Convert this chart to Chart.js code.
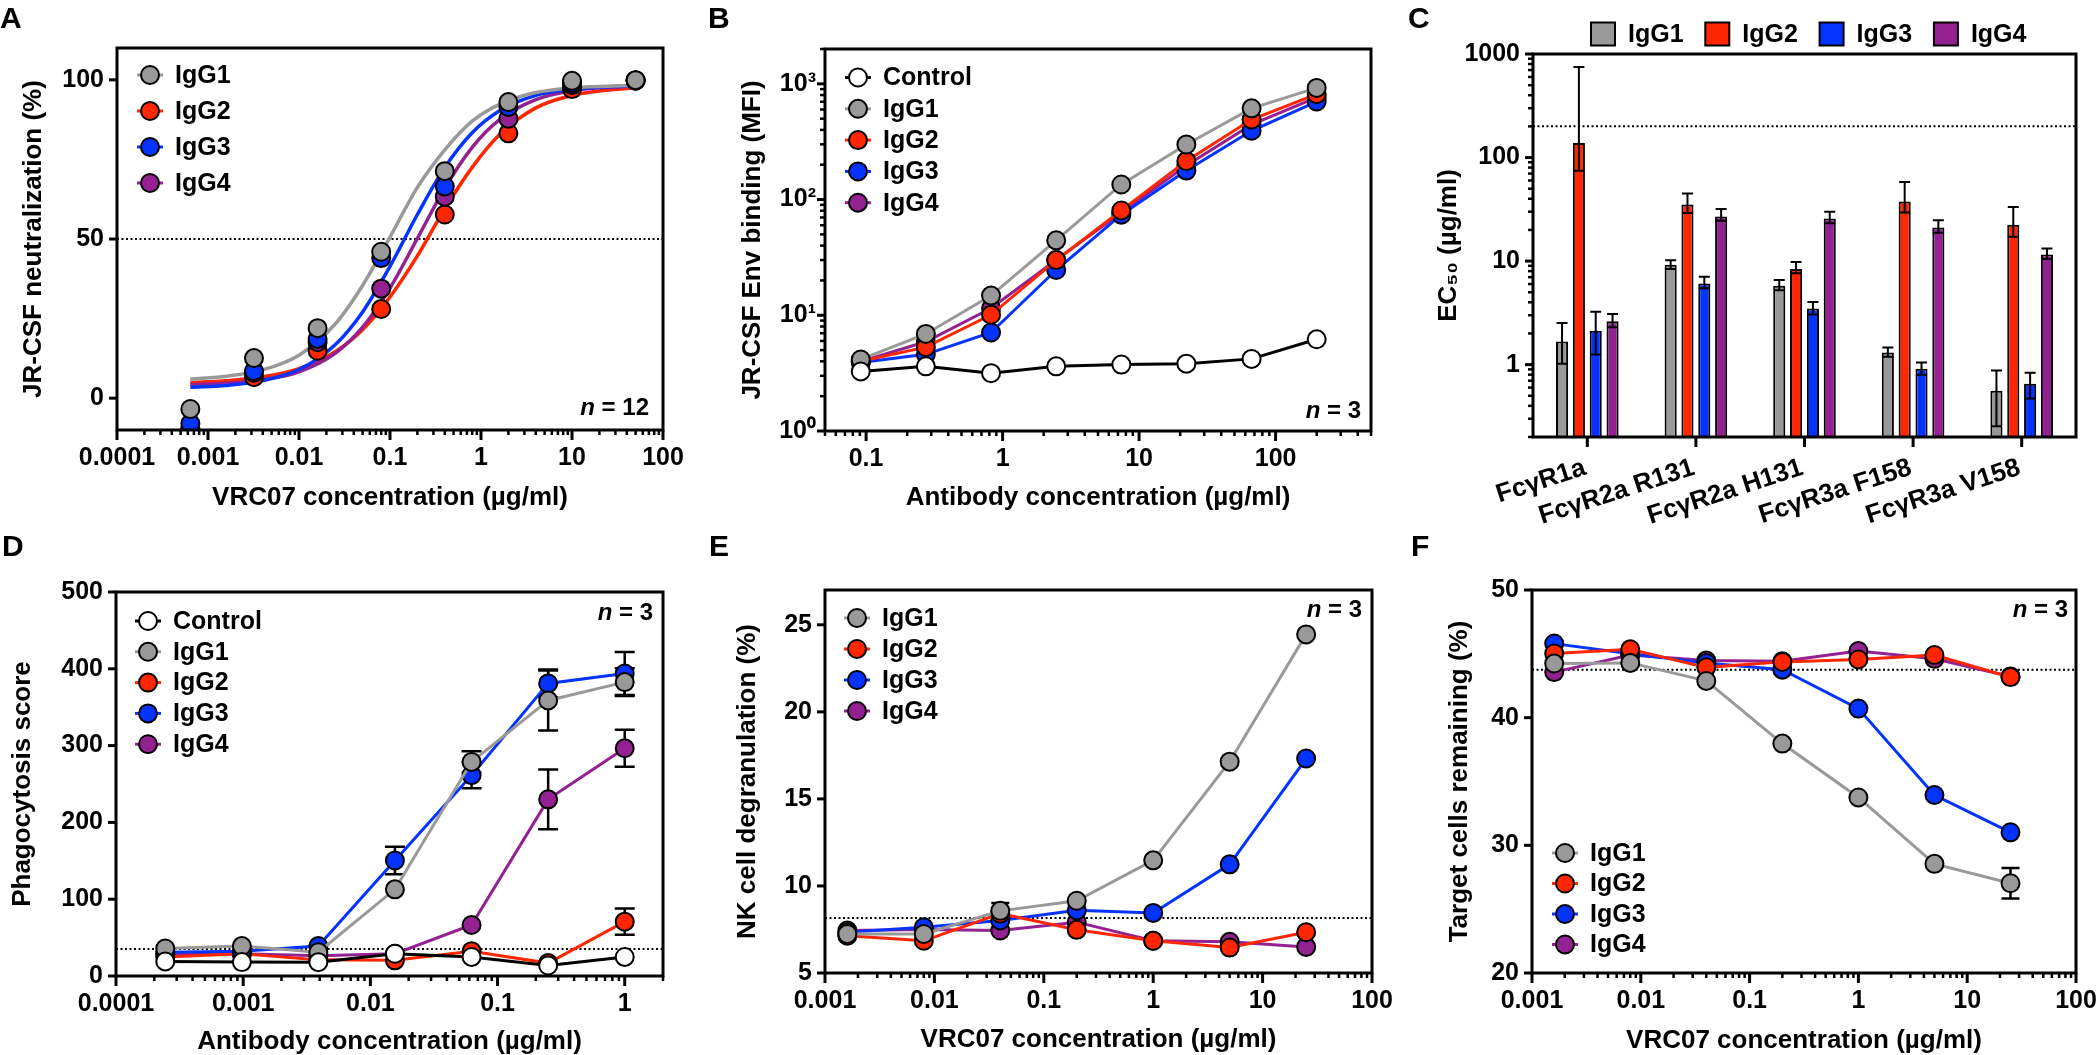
<!DOCTYPE html>
<html lang="en">
<head>
<meta charset="UTF-8">
<title>VRC07 IgG subclasses</title>
<script src="https://cdn.jsdelivr.net/npm/chart.js@4.4.1/dist/chart.umd.min.js"></script>
<style>
  html, body { margin: 0; padding: 0; background: #fff; }
  body { position: relative; width: 2097px; height: 1055px; overflow: hidden; }
  canvas { position: absolute; }
  .tag { position: absolute; font: bold 30px 'Liberation Sans', Arial, sans-serif; line-height: 30px; }
</style>
</head>
<body>
<canvas id="cA"></canvas>
<canvas id="cB"></canvas>
<canvas id="cC"></canvas>
<canvas id="cD"></canvas>
<canvas id="cE"></canvas>
<canvas id="cF"></canvas>
<div class="tag" style="left:0px;top:3px">A</div>
<div class="tag" style="left:708px;top:3px">B</div>
<div class="tag" style="left:1408px;top:3px">C</div>
<div class="tag" style="left:2px;top:531px">D</div>
<div class="tag" style="left:709px;top:531px">E</div>
<div class="tag" style="left:1411px;top:531px">F</div>
<script>
// ---- A: JR-CSF neutralization, points and the fitted curves ----
const aConc = [0.00064, 0.0032, 0.016, 0.08, 0.4, 2, 10, 50];
const aIgG1 = [-3.4, 12.6, 22, 46, 71.3, 93, 99.7, 99.9];
const aIgG2 = [-9.5, 6.6, 14.9, 28, 57.7, 83.2, 97.1, 99.8];
const aIgG3 = [-8, 8.5, 18.6, 44, 66.5, 91.5, 99, 99.8];
const aIgG4 = [-9.6, 8, 17.6, 34.4, 63.3, 87.8, 98.4, 99.8];
const aFitConc = [0.00064, 0.0016, 0.004, 0.01, 0.025, 0.05, 0.1, 0.2, 0.4, 0.8, 1.6, 4, 10, 50];
const aFitIgG1 = [6.0, 6.9, 8.9, 13.5, 23.3, 35.4, 50.6, 66.2, 78.0, 87.0, 92.3, 96.0, 97.5, 98.3];
const aFitIgG2 = [4.9, 5.5, 6.7, 9.3, 14.6, 21.5, 31.8, 44.7, 59.5, 72.5, 82.8, 91.2, 95.1, 97.6];
const aFitIgG3 = [3.4, 4.0, 5.5, 9.0, 16.8, 27.1, 41.4, 57.7, 72.5, 83.4, 90.3, 95.1, 97.1, 98.2];
const aFitIgG4 = [4.3, 4.7, 5.8, 8.3, 14.1, 22.3, 34.6, 50.2, 66.0, 78.8, 87.5, 93.8, 96.6, 98.1];
const aRef = 50;
const aXVals = [0.0001, 0.001, 0.01, 0.1, 1, 10, 100];
const aXLabels = ['0.0001', '0.001', '0.01', '0.1', '1', '10', '100'];
const aYVals = [0, 50, 100];
const aYLabels = ['0', '50', '100'];

// ---- B: Env binding (MFI) ----
const bConc = [0.0914, 0.274, 0.823, 2.47, 7.41, 22.2, 66.7, 200];
const bControl = [3.27, 3.62, 3.16, 3.62, 3.75, 3.82, 4.2, 6.2];
const bIgG1 = [4.15, 6.9, 14.8, 44.4, 135, 299, 614, 922];
const bIgG2 = [4.0, 5.3, 10.1, 30, 80.5, 215, 492, 814];
const bIgG3 = [3.9, 4.6, 7.1, 24.6, 74, 178, 393, 703];
const bIgG4 = [4.0, 5.9, 11.5, 30, 77.4, 197, 444, 764];
const bXVals = [0.1, 1, 10, 100];
const bXLabels = ['0.1', '1', '10', '100'];
const bYVals = [1, 10, 100, 1000];
const bYLabels = ['10⁰', '10¹', '10²', '10³'];

// ---- C: EC50 per Fc receptor ----
const cReceptors = ['FcγR1a', 'FcγR2a R131', 'FcγR2a H131', 'FcγR3a F158', 'FcγR3a V158'];
const cIgG1 = [1.67, 9.2, 5.77, 1.31, 0.56];
const cIgG1Lo = [1.02, 8.4, 5.24, 1.19, 0.254];
const cIgG1Hi = [2.52, 10.2, 6.56, 1.46, 0.88];
const cIgG2 = [138, 35.2, 8.4, 37.6, 22.4];
const cIgG2Lo = [74.6, 29.1, 7.62, 29.5, 17.2];
const cIgG2Hi = [751, 45, 9.78, 58.2, 33.3];
const cIgG3 = [2.12, 6.08, 3.49, 0.914, 0.652];
const cIgG3Lo = [1.25, 5.48, 3.05, 0.80, 0.471];
const cIgG3Hi = [3.24, 7.07, 4.02, 1.05, 0.836];
const cIgG4 = [2.62, 27, 25.8, 21.1, 11.6];
const cIgG4Lo = [2.29, 24.5, 23.2, 18.8, 10.5];
const cIgG4Hi = [3.09, 31.8, 30, 24.8, 13.2];
const cRef = 200;
const cYVals = [1, 10, 100, 1000];
const cYLabels = ['1', '10', '100', '1000'];

// ---- D: phagocytosis ----
const dConc = [0.000244, 0.000977, 0.0039, 0.0156, 0.0625, 0.25, 1];
const dControl = [19, 18.1, 18, 29, 24.8, 13.7, 24.8];
const dIgG1 = [35.8, 39, 31, 112.8, 278.8, 358.8, 382.7];
const dIgG2 = [24.8, 29, 21, 20.4, 32.3, 16.8, 70.8];
const dIgG3 = [31, 32.3, 39, 150.4, 261.5, 381, 393.8];
const dIgG4 = [28, 29, 26.5, 29, 66.4, 230, 296.5];
const dIgG1Sem = [0, 0, 0, 0, 14, 39, 18];
const dIgG2Sem = [0, 0, 0, 0, 0, 0, 17];
const dIgG3Sem = [0, 0, 0, 18, 17, 18, 28];
const dIgG4Sem = [0, 0, 0, 0, 0, 39, 24];
const dRef = 35;
const dXVals = [0.0001, 0.001, 0.01, 0.1, 1];
const dXLabels = ['0.0001', '0.001', '0.01', '0.1', '1'];
const dYVals = [0, 100, 200, 300, 400, 500];
const dYLabels = ['0', '100', '200', '300', '400', '500'];

// ---- E: NK cell degranulation ----
const eConc = [0.0016, 0.008, 0.04, 0.2, 1, 5, 25];
const eIgG1 = [7.24, 7.24, 8.57, 9.15, 11.47, 17.14, 24.45];
const eIgG2 = [7.14, 6.85, 8.41, 7.48, 6.85, 6.46, 7.34];
const eIgG3 = [7.34, 7.63, 8.02, 8.6, 8.45, 11.24, 17.32];
const eIgG4 = [7.44, 7.5, 7.44, 7.92, 6.85, 6.79, 6.5];
const eIgG1Sem = [0, 0, 0.45, 0, 0, 0, 0];
const eRef = 8.16;
const eXVals = [0.001, 0.01, 0.1, 1, 10, 100];
const eXLabels = ['0.001', '0.01', '0.1', '1', '10', '100'];
const eYVals = [5, 10, 15, 20, 25];
const eYLabels = ['5', '10', '15', '20', '25'];

// ---- F: target cells remaining ----
const fConc = [0.0016, 0.008, 0.04, 0.2, 1, 5, 25];
const fIgG1 = [44.24, 44.29, 42.88, 37.97, 33.75, 28.55, 27.03];
const fIgG2 = [45.03, 45.35, 43.94, 44.37, 44.56, 44.9, 43.18];
const fIgG3 = [45.8, 45.0, 44.29, 43.76, 40.71, 33.94, 31.02];
const fIgG4 = [43.57, 44.9, 44.48, 44.42, 45.22, 44.61, 43.23];
const fIgG1Sem = [0, 0, 0, 0, 0, 0, 1.2];
const fRef = 43.76;
const fYVals = [20, 30, 40, 50];
const fYLabels = ['20', '30', '40', '50'];

const FONT = "'Liberation Sans', Arial, Helvetica, sans-serif";
Chart.defaults.font.family = FONT;
Chart.defaults.font.weight = 'bold';
Chart.defaults.color = '#000';

const GRAY = '#999999', RED = '#ff2600', BLUE = '#0433ff', PURPLE = '#942192';

// canvas box on the page and the plot frame inside it
const P = {
  A: {x: 0, y: 0, w: 700, h: 525, L: 117, T: 48, R: 663, B: 430},
  B: {x: 700, y: 0, w: 700, h: 525, L: 825, T: 49, R: 1371, B: 431},
  C: {x: 1400, y: 0, w: 697, h: 525, L: 1533, T: 54, R: 2076, B: 437},
  D: {x: 0, y: 525, w: 700, h: 530, L: 116, T: 592, R: 663, B: 976},
  E: {x: 700, y: 525, w: 700, h: 530, L: 825, T: 590, R: 1372, B: 973},
  F: {x: 1400, y: 525, w: 697, h: 530, L: 1532, T: 590, R: 2076, B: 973}
};

// 1..9 x 10^k tick marks for log axes (labels only on the listed values)
function logTicks(min, max) {
  const out = [];
  for (let e = Math.floor(Math.log10(min)); e <= Math.ceil(Math.log10(max)); e++) {
    for (let m = 1; m < 10; m++) {
      const v = Number((m * Math.pow(10, e)).toPrecision(6));
      if (v >= min * 0.9999 && v <= max * 1.0001) out.push({value: v});
    }
  }
  return out;
}

function axis(p, o) {
  const left = o.pos === 'left';
  const find = v => o.vals.findIndex(t => Math.abs(t - v) <= Math.abs(t) * 1e-6);
  const tpad = Math.max(0, left ? o.titleAt - p.x - 13 : p.y + p.h - o.titleAt - 13);
  return {
    type: o.type, position: o.pos, min: o.min, max: o.max,
    grid: {display: false, drawTicks: false},
    border: {display: false},
    ticks: {
      autoSkip: false, minRotation: 0, maxRotation: 0, padding: o.pad || 13,
      font: {size: 25, weight: 'bold'}, color: '#000',
      callback: v => { const i = find(v); return i < 0 ? '' : o.labels[i]; }
    },
    title: {
      display: !!o.title, text: o.title, color: '#000',
      font: {size: 26, weight: 'bold', lineHeight: 1},
      padding: left ? {top: tpad, bottom: 0} : {top: 0, bottom: tpad}
    },
    afterBuildTicks: s => {
      s.ticks = o.type === 'logarithmic' ? logTicks(o.min, o.max) : o.vals.map(v => ({value: v}));
    },
    afterFit: s => {
      if (left) s.width = p.L - p.x; else s.height = p.y + p.h - p.B;
      s.paddingLeft = s.paddingRight = s.paddingTop = s.paddingBottom = 0;
    }
  };
}

function pts(label, xs, ys, color, extra) {
  return Object.assign({
    label: label,
    data: xs.map((x, i) => ({x: x, y: ys[i]})),
    borderColor: color, backgroundColor: color, pointBackgroundColor: color,
    pointBorderColor: '#000', pointBorderWidth: 2, pointRadius: 9, pointHoverRadius: 9,
    borderWidth: 3, tension: 0
  }, extra || {});
}

function curve(xs, ys, color) {
  return {
    label: 'fit', data: xs.map((x, i) => ({x: x, y: ys[i]})),
    borderColor: color, borderWidth: 3.5, pointRadius: 0,
    cubicInterpolationMode: 'monotone', order: 10
  };
}

function refLine(x0, x1, y) {
  return {
    label: 'ref', data: [{x: x0, y: y}, {x: x1, y: y}],
    borderColor: '#000', borderWidth: 2, borderDash: [2, 2.5], pointRadius: 0, order: 20
  };
}

function opts(p, scales, deco, err) {
  return {
    responsive: false, animation: false, events: [],
    layout: {padding: {top: p.T - p.y, right: p.x + p.w - p.R, left: 0, bottom: 0}},
    scales: scales,
    plugins: {legend: {display: false}, tooltip: {enabled: false}, deco: deco, errorBars: err || {}}
  };
}

function drawErrors(chart, o) {
  const ctx = chart.ctx;
  ctx.save();
  ctx.strokeStyle = '#000';
  ctx.lineWidth = o.width || 2.5;
  chart.data.datasets.forEach((ds, di) => {
    if (!ds.sem && !ds.errLo) return;
    const meta = chart.getDatasetMeta(di);
    const ys = chart.scales[meta.yAxisID];
    meta.data.forEach((el, j) => {
      const raw = ds.data[j];
      const v = typeof raw === 'number' ? raw : raw.y;
      let lo, hi;
      if (ds.sem) {
        if (!ds.sem[j]) return;
        lo = v - ds.sem[j]; hi = v + ds.sem[j];
      } else {
        lo = ds.errLo[j]; hi = ds.errHi[j];
      }
      const y1 = ys.getPixelForValue(lo), y2 = ys.getPixelForValue(hi), h = (o.cap || 18) / 2;
      ctx.beginPath();
      ctx.moveTo(el.x, y1); ctx.lineTo(el.x, y2);
      ctx.moveTo(el.x - h, y1); ctx.lineTo(el.x + h, y1);
      ctx.moveTo(el.x - h, y2); ctx.lineTo(el.x + h, y2);
      ctx.stroke();
    });
  });
  ctx.restore();
}

const errorBars = {
  id: 'errorBars',
  beforeDatasetsDraw(chart, args, o) {
    if (o.hline !== undefined) {
      // dotted cut-off across the whole plot (panel C)
      const ctx = chart.ctx, a = chart.chartArea, y = chart.scales.y.getPixelForValue(o.hline);
      ctx.save();
      ctx.strokeStyle = '#000'; ctx.lineWidth = 2; ctx.setLineDash([2, 2.5]);
      ctx.beginPath(); ctx.moveTo(a.left, y); ctx.lineTo(a.right, y); ctx.stroke();
      ctx.restore();
    }
    if (!o.after) drawErrors(chart, o);
  },
  afterDatasetsDraw(chart, args, o) { if (o.after) drawErrors(chart, o); }
};

// box around the plot plus outward tick marks
const frame = {
  id: 'frame',
  afterDatasetsDraw(chart) {
    const ctx = chart.ctx, a = chart.chartArea;
    ctx.save();
    ctx.strokeStyle = '#000';
    Object.values(chart.scales).forEach(s => {
      if (s.options.display === false) return;
      s.ticks.forEach((t, i) => {
        const px = s.getPixelForTick(i);
        const major = s.type === 'category' || !!t.label;
        const len = major ? (s.isHorizontal() ? 10 : 8) : 5;
        ctx.lineWidth = major ? 3 : 2.5;
        ctx.beginPath();
        if (s.isHorizontal()) { ctx.moveTo(px, a.bottom); ctx.lineTo(px, a.bottom + len); }
        else { ctx.moveTo(a.left, px); ctx.lineTo(a.left - len, px); }
        ctx.stroke();
      });
    });
    ctx.lineWidth = 3;
    ctx.strokeRect(a.left, a.top, a.right - a.left, a.bottom - a.top);
    ctx.restore();
  }
};

// in-plot key, the "n = " note and the slanted category names of panel C
const deco = {
  id: 'deco',
  afterDraw(chart, args, o) {
    const ctx = chart.ctx, a = chart.chartArea;
    ctx.save();
    ctx.textBaseline = 'middle';
    ctx.textAlign = 'left';
    ctx.font = 'bold 25px ' + FONT;
    (o.items || []).forEach((di, k) => {
      const ds = chart.data.datasets[di];
      const cx = a.left + o.x + (o.dx || 0) * k;
      const cy = a.top + o.y + (o.dy || 0) * k;
      if (o.box) {
        ctx.fillStyle = ds.backgroundColor;
        ctx.fillRect(cx, cy - 11.5, 24, 23);
        ctx.lineWidth = 2; ctx.strokeStyle = '#000';
        ctx.strokeRect(cx, cy - 11.5, 24, 23);
        ctx.fillStyle = '#000';
        ctx.fillText(ds.label, cx + 37, cy + 1);
      } else {
        ctx.strokeStyle = ds.borderColor; ctx.lineWidth = 3;
        ctx.beginPath(); ctx.moveTo(cx - 13, cy); ctx.lineTo(cx + 13, cy); ctx.stroke();
        ctx.beginPath(); ctx.arc(cx, cy, 9, 0, Math.PI * 2);
        ctx.fillStyle = ds.pointBackgroundColor; ctx.fill();
        ctx.lineWidth = 2; ctx.strokeStyle = '#000'; ctx.stroke();
        ctx.fillStyle = '#000';
        ctx.fillText(ds.label, cx + 25, cy + 1);
      }
    });
    if (o.n) {
      ctx.textBaseline = 'alphabetic';
      ctx.textAlign = 'right';
      ctx.font = 'bold 24px ' + FONT;
      const rest = ' = ' + o.n;
      const w = ctx.measureText(rest).width;
      const xr = a.right - o.nRight, yb = a.top + o.nTop;
      ctx.fillText(rest, xr, yb);
      ctx.font = 'italic bold 24px ' + FONT;
      ctx.fillText('n', xr - w, yb);
    }
    if (o.slant) {
      const s = chart.scales.x;
      ctx.font = 'bold 26px ' + FONT;
      ctx.textAlign = 'right';
      ctx.textBaseline = 'alphabetic';
      ctx.fillStyle = '#000';
      s.ticks.forEach((t, i) => {
        ctx.save();
        ctx.translate(s.getPixelForTick(i) + o.slant.dx, a.bottom + o.slant.dy);
        ctx.rotate(-o.slant.angle * Math.PI / 180);
        ctx.fillText(chart.data.labels[i], 0, 0);
        ctx.restore();
      });
    }
    ctx.restore();
  }
};

function make(id, p, config) {
  const cv = document.getElementById(id);
  cv.width = p.w; cv.height = p.h;
  cv.style.left = p.x + 'px'; cv.style.top = p.y + 'px';
  config.plugins = [errorBars, frame, deco];
  return new Chart(cv, config);
}

// A
make('cA', P.A, {
  type: 'line',
  data: {datasets: [
    pts('IgG1', aConc, aIgG1, GRAY, {showLine: false, order: 0}),
    pts('IgG2', aConc, aIgG2, RED, {showLine: false, order: 3}),
    pts('IgG3', aConc, aIgG3, BLUE, {showLine: false, order: 1}),
    pts('IgG4', aConc, aIgG4, PURPLE, {showLine: false, order: 2}),
    curve(aFitConc, aFitIgG1, GRAY),
    curve(aFitConc, aFitIgG3, BLUE),
    curve(aFitConc, aFitIgG4, PURPLE),
    curve(aFitConc, aFitIgG2, RED),
    refLine(0.0001, 100, aRef)
  ]},
  options: opts(P.A, {
    x: axis(P.A, {type: 'logarithmic', pos: 'bottom', min: 0.0001, max: 100, vals: aXVals, labels: aXLabels,
      title: 'VRC07 concentration (µg/ml)', titleAt: 497.7}),
    y: axis(P.A, {type: 'linear', pos: 'left', min: -10, max: 110, vals: aYVals, labels: aYLabels,
      title: 'JR-CSF neutralization (%)', titleAt: 33.6})
  }, {items: [0, 1, 2, 3], x: 33, y: 27, dy: 36, n: '12', nRight: 14, nTop: 367})
});

// B
make('cB', P.B, {
  type: 'line',
  data: {datasets: [
    pts('Control', bConc, bControl, '#000', {pointBackgroundColor: '#fff', order: 0}),
    pts('IgG1', bConc, bIgG1, GRAY, {order: 1}),
    pts('IgG2', bConc, bIgG2, RED, {order: 2}),
    pts('IgG3', bConc, bIgG3, BLUE, {order: 3}),
    pts('IgG4', bConc, bIgG4, PURPLE, {order: 4})
  ]},
  options: opts(P.B, {
    x: axis(P.B, {type: 'logarithmic', pos: 'bottom', min: 0.05, max: 500, vals: bXVals, labels: bXLabels,
      title: 'Antibody concentration (µg/ml)', titleAt: 497.7}),
    y: axis(P.B, {type: 'logarithmic', pos: 'left', min: 1, max: 2000, vals: bYVals, labels: bYLabels, pad: 9,
      title: 'JR-CSF Env binding (MFI)', titleAt: 752.8})
  }, {items: [0, 1, 2, 3, 4], x: 33, y: 28.5, dy: 31.3, n: '3', nRight: 10, nTop: 369})
});

// C
function bars(label, vals, lo, hi, color) {
  return {label: label, data: vals, errLo: lo, errHi: hi, backgroundColor: color,
    borderColor: '#000', borderWidth: 2, borderSkipped: 'start'};
}
const cOpts = opts(P.C, {
  x: {
    type: 'category', offset: true,
    grid: {display: false, drawTicks: false}, border: {display: false},
    ticks: {display: false, autoSkip: false, minRotation: 0, maxRotation: 0},
    afterFit: s => { s.height = P.C.y + P.C.h - P.C.B; s.paddingLeft = s.paddingRight = 0; }
  },
  y: axis(P.C, {type: 'logarithmic', pos: 'left', min: 0.2, max: 1000, vals: cYVals, labels: cYLabels,
    title: 'EC₅₀ (µg/ml)', titleAt: 1449})
}, {items: [0, 1, 2, 3], box: true, x: 58, y: -20, dx: 114.3, slant: {dx: 0, dy: 37, angle: 18}},
   {after: true, cap: 11, width: 2, hline: cRef});
cOpts.datasets = {bar: {categoryPercentage: 0.62, barPercentage: 0.72, grouped: true}};
make('cC', P.C, {
  type: 'bar',
  data: {labels: cReceptors, datasets: [
    bars('IgG1', cIgG1, cIgG1Lo, cIgG1Hi, GRAY),
    bars('IgG2', cIgG2, cIgG2Lo, cIgG2Hi, RED),
    bars('IgG3', cIgG3, cIgG3Lo, cIgG3Hi, BLUE),
    bars('IgG4', cIgG4, cIgG4Lo, cIgG4Hi, PURPLE)
  ]},
  options: cOpts
});

// D
make('cD', P.D, {
  type: 'line',
  data: {datasets: [
    pts('Control', dConc, dControl, '#000', {pointBackgroundColor: '#fff', order: 0}),
    pts('IgG1', dConc, dIgG1, GRAY, {sem: dIgG1Sem, order: 1}),
    pts('IgG2', dConc, dIgG2, RED, {sem: dIgG2Sem, order: 3}),
    pts('IgG3', dConc, dIgG3, BLUE, {sem: dIgG3Sem, order: 2}),
    pts('IgG4', dConc, dIgG4, PURPLE, {sem: dIgG4Sem, order: 4}),
    refLine(0.0001, 2, dRef)
  ]},
  options: opts(P.D, {
    x: axis(P.D, {type: 'logarithmic', pos: 'bottom', min: 0.0001, max: 2, vals: dXVals, labels: dXLabels,
      title: 'Antibody concentration (µg/ml)', titleAt: 1043}),
    y: axis(P.D, {type: 'linear', pos: 'left', min: 0, max: 500, vals: dYVals, labels: dYLabels,
      title: 'Phagocytosis score', titleAt: 22.4})
  }, {items: [0, 1, 2, 3, 4], x: 32, y: 29, dy: 30.8, n: '3', nRight: 10, nTop: 28}, {cap: 20, width: 2.5})
});

// E
make('cE', P.E, {
  type: 'line',
  data: {datasets: [
    pts('IgG1', eConc, eIgG1, GRAY, {sem: eIgG1Sem, order: 0}),
    pts('IgG2', eConc, eIgG2, RED, {order: 1}),
    pts('IgG3', eConc, eIgG3, BLUE, {order: 2}),
    pts('IgG4', eConc, eIgG4, PURPLE, {order: 3}),
    refLine(0.001, 100, eRef)
  ]},
  options: opts(P.E, {
    x: axis(P.E, {type: 'logarithmic', pos: 'bottom', min: 0.001, max: 100, vals: eXVals, labels: eXLabels,
      title: 'VRC07 concentration (µg/ml)', titleAt: 1039.6}),
    y: axis(P.E, {type: 'linear', pos: 'left', min: 5, max: 27, vals: eYVals, labels: eYLabels,
      title: 'NK cell degranulation (%)', titleAt: 748})
  }, {items: [0, 1, 2, 3], x: 32, y: 28, dy: 31, n: '3', nRight: 10, nTop: 27}, {cap: 18, width: 2.5})
});

// F
make('cF', P.F, {
  type: 'line',
  data: {datasets: [
    pts('IgG1', fConc, fIgG1, GRAY, {sem: fIgG1Sem, order: 0}),
    pts('IgG2', fConc, fIgG2, RED, {order: 1}),
    pts('IgG3', fConc, fIgG3, BLUE, {order: 2}),
    pts('IgG4', fConc, fIgG4, PURPLE, {order: 3}),
    refLine(0.001, 100, fRef)
  ]},
  options: opts(P.F, {
    x: axis(P.F, {type: 'logarithmic', pos: 'bottom', min: 0.001, max: 100, vals: eXVals, labels: eXLabels,
      title: 'VRC07 concentration (µg/ml)', titleAt: 1041}),
    y: axis(P.F, {type: 'linear', pos: 'left', min: 20, max: 50, vals: fYVals, labels: fYLabels,
      title: 'Target cells remaining (%)', titleAt: 1460})
  }, {items: [0, 1, 2, 3], x: 33, y: 263, dy: 30.5, n: '3', nRight: 8, nTop: 27}, {cap: 18, width: 2.5})
});
</script>
</body>
</html>
